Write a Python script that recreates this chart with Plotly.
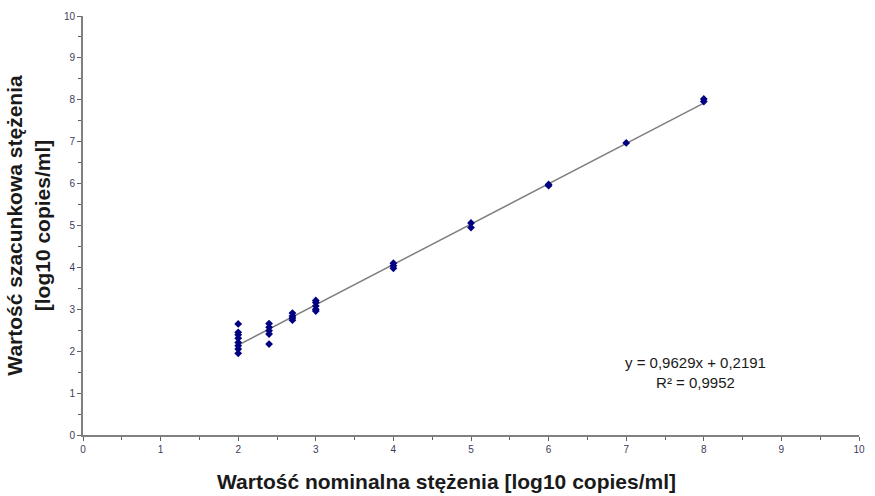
import plotly.graph_objects as go

# Data
x_nominal = [2]*8 + [2.398]*5 + [2.699]*4 + [3]*5 + [4]*3 + [5]*2 + [6]*2 + [7] + [8]*2
y_estimated = [2.65, 2.45, 2.39, 2.31, 2.21, 2.13, 2.05, 1.95,
               2.66, 2.57, 2.49, 2.41, 2.17,
               2.91, 2.84, 2.79, 2.74,
               3.21, 3.16, 3.08, 3.00, 2.96,
               4.10, 4.04, 3.98,
               5.06, 4.95,
               5.98, 5.95,
               6.97,
               8.02, 7.96]
slope = 0.9629
intercept = 0.2191
fit_x = [2, 8]
fit_y = [slope * v + intercept for v in fit_x]
tick_vals = list(range(0, 11))

fig = go.Figure()
fig.add_trace(go.Scatter(x=fit_x, y=fit_y, mode="lines",
                         line=dict(color="#7f7f7f", width=1.5), showlegend=False))
fig.add_trace(go.Scatter(x=x_nominal, y=y_estimated, mode="markers",
                         marker=dict(symbol="diamond", size=6, color="#000080"),
                         showlegend=False))

tickfont = dict(family="Liberation Sans, Arial", size=10, color="#3c3c5a")
common = dict(range=[0, 10], tickvals=tick_vals, showgrid=False, zeroline=False,
              showline=True, linecolor="#808080", linewidth=2,
              ticks="outside", ticklen=4, tickcolor="#606060", tickwidth=1,
              tickfont=tickfont,
              minor=dict(dtick=0.5, ticks="outside", ticklen=3, tickcolor="#606060"))

title_font = dict(family="Liberation Sans, Arial", size=21, color="#1a1a1a")
fig.update_xaxes(**common)
fig.update_yaxes(**common,
                 title=dict(text="<b>Wartość szacunkowa stężenia<br>[log10 copies/ml]</b>",
                            font=title_font, standoff=8))

fig.add_annotation(x=0.469, y=-0.111, xref="paper", yref="paper", showarrow=False,
                   text="<b>Wartość nominalna stężenia [log10 copies/ml]</b>",
                   xanchor="center", yanchor="middle", font=title_font)

fig.add_annotation(x=7.89, y=1.49, xref="x", yref="y", showarrow=False,
                   text="y = 0,9629x + 0,2191<br>R² = 0,9952", align="center",
                   font=dict(family="Liberation Sans, Arial", size=15, color="#1a1a1a"))

fig.update_layout(width=875, height=496, plot_bgcolor="white", paper_bgcolor="white",
                  margin=dict(l=83, r=12, t=10, b=61))

fig.write_html("out.html")
